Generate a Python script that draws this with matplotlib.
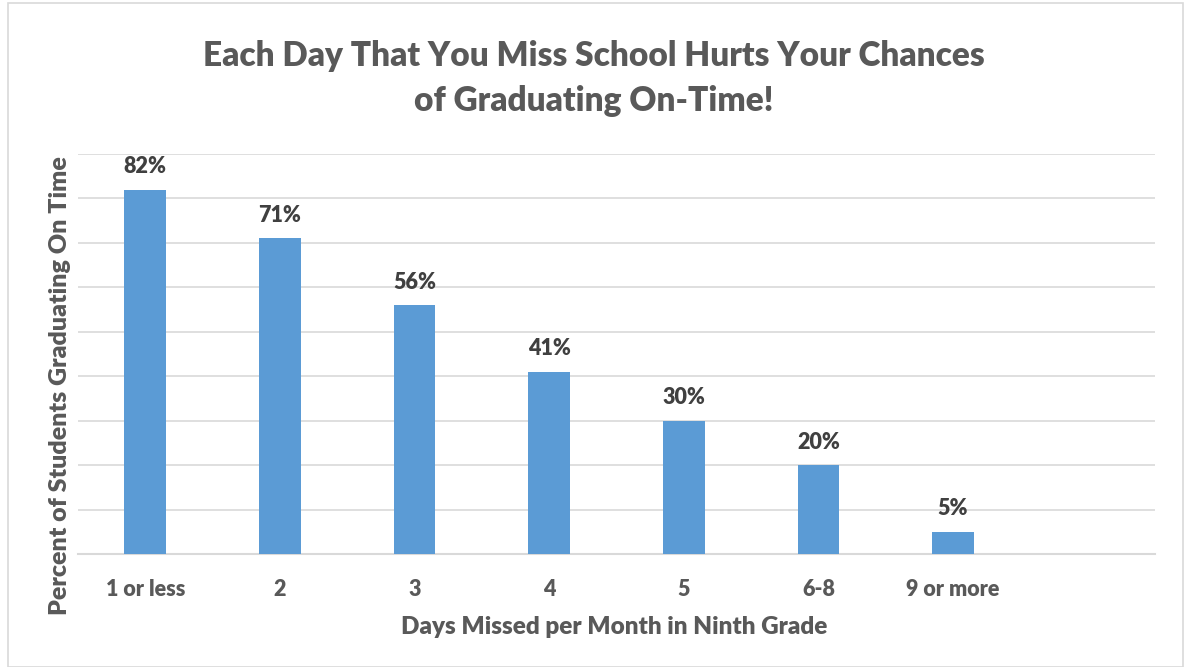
import matplotlib.pyplot as plt
from matplotlib.patches import Rectangle

# =========================================================
# DATA
# =========================================================
categories = ["1 or less", "2", "3", "4", "5", "6-8", "9 or more", ""]
values     = [82, 71, 56, 41, 30, 20, 5, None]

TITLE  = "Each Day That You Miss School Hurts Your Chances\nof Graduating On-Time!"
XLABEL = "Days Missed per Month in Ninth Grade"
YLABEL = "Percent of Students Graduating On Time"

BAR_COLOR  = "#5B9BD5"
TEXT_COLOR = "#595959"
GRID_COLOR = "#D9D9D9"

plt.rcParams["font.family"] = ["Lato", "DejaVu Sans"]
plt.rcParams["font.weight"] = "heavy"

# =========================================================
# PLOT
# =========================================================
fig = plt.figure(figsize=(11.87, 6.67), dpi=100)
ax = fig.add_axes([0.0657, 0.1694, 0.9073, 0.5997])

x = list(range(len(categories)))
bar_x = [i for i, v in zip(x, values) if v is not None]
bar_v = [v for v in values if v is not None]

ax.bar(bar_x, bar_v, width=0.31, color=BAR_COLOR, zorder=3)

for xi, v in zip(bar_x, bar_v):
    ax.text(xi, v + 2.8, f"{v}%", ha="center", va="bottom",
            fontsize=15.5, fontweight="heavy", color="#404040", zorder=4)

ax.set_xlim(-0.5, len(categories) - 0.5)
ax.set_ylim(0, 90)
ax.set_yticks(range(0, 91, 10))
ax.set_yticklabels([])
ax.tick_params(axis="y", length=0)
ax.grid(axis="y", color=GRID_COLOR, linewidth=1.2, zorder=0)

ax.set_xticks(x)
ax.set_xticklabels(categories, fontsize=15.5, fontweight="heavy", color=TEXT_COLOR)
ax.tick_params(axis="x", length=0, pad=18)

for side in ["top", "right", "left"]:
    ax.spines[side].set_visible(False)
ax.spines["bottom"].set_color(GRID_COLOR)
ax.spines["bottom"].set_linewidth(1.5)

ax.set_xlabel(XLABEL, fontsize=17.5, fontweight="heavy", color=TEXT_COLOR)
ax.xaxis.set_label_coords(0.4977, -0.183)
ax.set_ylabel(YLABEL, fontsize=18, fontweight="heavy", color=TEXT_COLOR)
ax.yaxis.set_label_coords(-0.0167, 0.42)
ax.yaxis.label.set_va("center")
ax.xaxis.label.set_va("center")

fig.text(0.5, 0.883, TITLE, ha="center", va="center", fontsize=24,
         fontweight="heavy", color=TEXT_COLOR, linespacing=1.5)

# chart border
fig.patches.append(Rectangle((0.007, 0.0), 0.990, 0.995, transform=fig.transFigure,
                             fill=False, edgecolor=GRID_COLOR, linewidth=1.2))

fig.savefig("out.png", dpi=100, facecolor="white")
